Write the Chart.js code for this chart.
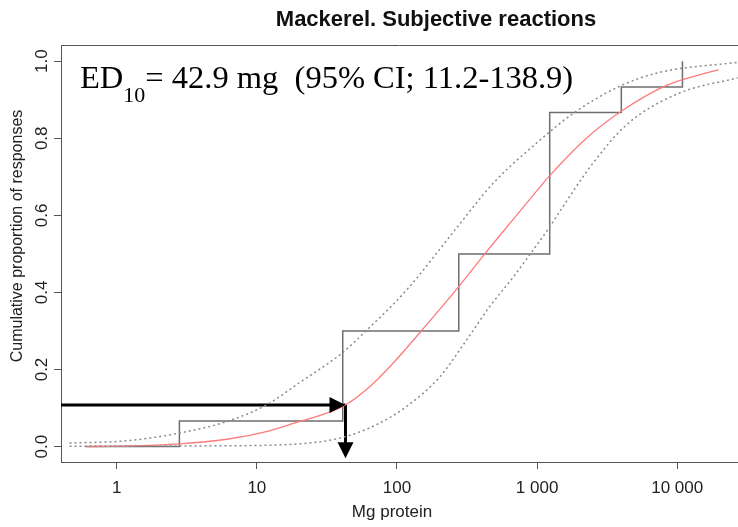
<!DOCTYPE html>
<html>
<head>
<meta charset="utf-8">
<script src="https://cdn.jsdelivr.net/npm/chart.js@4/dist/chart.umd.min.js"></script>
<style>
  html, body { margin: 0; padding: 0; background: #fff; }
  #wrap { width: 738px; height: 527px; }
</style>
</head>
<body>
<div id="wrap"><canvas id="chart" width="738" height="527"></canvas></div>
<script>
// mackerel - cumulative proportion of subjective reactions vs dose (log scale)

// empirical step function (dose in mg, cumulative proportion)
const stepDose = [0.6, 2.8, 41, 276, 1230, 3990, 10900];
const stepProp = [0, 0.0667, 0.3, 0.5, 0.867, 0.933, 1.0];

// fitted curve (red)
const fitDose = [0.6, 1, 2.8, 6.1, 11.7, 20, 30, 42.9, 65, 93, 149, 276, 423, 572, 713, 1040, 1230, 2250, 3990, 8400, 19700];
const fitProp = [0.0, 0.001, 0.007, 0.019, 0.039, 0.065, 0.084, 0.108, 0.158, 0.215, 0.30, 0.415, 0.50, 0.558, 0.60, 0.672, 0.703, 0.80, 0.870, 0.937, 0.978];

// 95% confidence band (dotted)
const upperDose = [0.46, 1.17, 2.8, 6.1, 11.7, 20, 41, 60, 117, 258, 485, 1040, 1900, 3990, 7500, 27000];
const upperProp = [0.009, 0.015, 0.035, 0.065, 0.108, 0.165, 0.244, 0.30, 0.406, 0.561, 0.683, 0.794, 0.870, 0.937, 0.971, 0.997];
const lowerDose = [0.46, 5, 20, 39, 67, 117, 202, 313, 458, 676, 915, 1230, 1450, 2500, 4350, 10000, 27000];
const lowerProp = [0.001, 0.002, 0.007, 0.022, 0.052, 0.104, 0.181, 0.276, 0.363, 0.44, 0.505, 0.57, 0.61, 0.735, 0.835, 0.915, 0.957];

// ED10 marker
const ed10 = 42.9;
const ed10Level = 0.108;
const arrowBottom = -0.03;
const ciLow = 11.2;
const ciHigh = 138.9;

// axes
const xTickValues = [1, 10, 100, 1000, 10000];
const xTickLabels = ['1', '10', '100', '1 000', '10 000'];
const yTickValues = [0, 0.2, 0.4, 0.6, 0.8, 1.0];
const yTickLabels = ['0.0', '0.2', '0.4', '0.6', '0.8', '1.0'];

const SANS = '"Liberation Sans", Arial, sans-serif';
const SERIF = '"Liberation Serif", "Times New Roman", serif';
const AXIS_GREY = '#555555';

function pts(xs, ys) {
  return xs.map((x, i) => ({ x: x, y: ys[i] }));
}

const xMin = 0.4;
const xMax = 27150;

// decorations: top border, titles, ED10 label, arrow heads
const decor = {
  id: 'decor',
  afterDatasetsDraw(chart) {
    const ctx = chart.ctx;
    const x = chart.scales.x, y = chart.scales.y;
    const tipX = x.getPixelForValue(ed10);
    const lvlY = y.getPixelForValue(ed10Level);
    const botY = y.getPixelForValue(arrowBottom);
    ctx.save();
    ctx.fillStyle = '#000';
    // head pointing right
    ctx.beginPath();
    ctx.moveTo(tipX, lvlY);
    ctx.lineTo(tipX - 16, lvlY - 8);
    ctx.lineTo(tipX - 16, lvlY + 8);
    ctx.closePath();
    ctx.fill();
    // head pointing down
    ctx.beginPath();
    ctx.moveTo(tipX, botY);
    ctx.lineTo(tipX - 8, botY - 16);
    ctx.lineTo(tipX + 8, botY - 16);
    ctx.closePath();
    ctx.fill();
    ctx.restore();
  },
  afterDraw(chart) {
    const ctx = chart.ctx;
    const a = chart.chartArea;
    ctx.save();
    // top side of the box
    ctx.strokeStyle = AXIS_GREY;
    ctx.lineWidth = 1;
    ctx.beginPath();
    ctx.moveTo(a.left, Math.round(a.top) + 0.5);
    ctx.lineTo(a.right, Math.round(a.top) + 0.5);
    ctx.stroke();

    // main title
    ctx.fillStyle = '#111';
    ctx.textAlign = 'center';
    ctx.textBaseline = 'middle';
    ctx.font = 'bold 22px ' + SANS;
    ctx.fillText('Mackerel. Subjective reactions', 436, 20);

    // axis titles
    ctx.font = '17px ' + SANS;
    ctx.fillStyle = '#222';
    ctx.fillText('Mg protein', 392, 512);
    ctx.font = '16px ' + SANS;
    ctx.save();
    ctx.translate(18, 236);
    ctx.rotate(-Math.PI / 2);
    ctx.fillText('Cumulative proportion of responses', 0, 0);
    ctx.restore();

    // ED10 label
    ctx.fillStyle = '#000';
    ctx.textAlign = 'left';
    ctx.textBaseline = 'alphabetic';
    let tx = 80;
    ctx.font = '32.5px ' + SERIF;
    ctx.fillText('ED', tx, 88);
    tx += ctx.measureText('ED').width;
    ctx.font = '22px ' + SERIF;
    ctx.fillText('10', tx, 102);
    tx += ctx.measureText('10').width;
    ctx.font = '32.5px ' + SERIF;
    ctx.fillText('= ' + ed10 + ' mg  (95% CI; ' + ciLow + '-' + ciHigh + ')', tx, 88);
    ctx.restore();
  }
};

new Chart(document.getElementById('chart'), {
  type: 'scatter',
  data: {
    datasets: [
      {
        label: 'upper',
        data: pts(upperDose, upperProp),
        showLine: true,
        borderColor: '#8a8a8a',
        borderWidth: 1.5,
        borderDash: [2, 3],
        pointRadius: 0,
        cubicInterpolationMode: 'monotone'
      },
      {
        label: 'lower',
        data: pts(lowerDose, lowerProp),
        showLine: true,
        borderColor: '#8a8a8a',
        borderWidth: 1.5,
        borderDash: [2, 3],
        pointRadius: 0,
        cubicInterpolationMode: 'monotone'
      },
      {
        label: 'fit',
        data: pts(fitDose, fitProp),
        showLine: true,
        borderColor: '#ff7a7a',
        borderWidth: 1.3,
        pointRadius: 0,
        cubicInterpolationMode: 'monotone'
      },
      {
        label: 'observed',
        data: pts(stepDose, stepProp),
        showLine: true,
        stepped: 'before',
        borderColor: '#6e6e6e',
        borderWidth: 1.5,
        pointRadius: 0
      },
      {
        label: 'arrowH',
        data: [{ x: xMin, y: ed10Level }, { x: ed10, y: ed10Level }],
        showLine: true,
        borderColor: '#000',
        borderWidth: 3,
        pointRadius: 0
      },
      {
        label: 'arrowV',
        data: [{ x: ed10, y: ed10Level }, { x: ed10, y: arrowBottom + 0.01 }],
        showLine: true,
        borderColor: '#000',
        borderWidth: 3,
        pointRadius: 0
      }
    ]
  },
  options: {
    responsive: false,
    animation: false,
    devicePixelRatio: 1,
    layout: { padding: { top: 45, right: 0, bottom: 0, left: 0 } },
    plugins: {
      legend: { display: false },
      tooltip: { enabled: false }
    },
    scales: {
      x: {
        type: 'logarithmic',
        min: xMin,
        max: xMax,
        afterBuildTicks: s => { s.ticks = xTickValues.map(v => ({ value: v })); },
        afterFit: s => { s.height = 65; },
        ticks: {
          autoSkip: false,
          maxRotation: 0,
          padding: 9,
          color: '#222',
          font: { family: SANS, size: 17 },
          callback: (v, i) => xTickLabels[i]
        },
        grid: { drawOnChartArea: false, tickLength: 7, color: AXIS_GREY },
        border: { color: AXIS_GREY }
      },
      y: {
        min: -0.04,
        max: 1.042,
        afterBuildTicks: s => { s.ticks = yTickValues.map(v => ({ value: v })); },
        afterFit: s => { s.width = 61; },
        ticks: {
          minRotation: 90,
          maxRotation: 90,
          crossAlign: 'center',
          padding: 0,
          color: '#222',
          font: { family: SANS, size: 17 },
          callback: (v, i) => yTickLabels[i]
        },
        grid: { drawOnChartArea: false, tickLength: 7, color: AXIS_GREY },
        border: { color: AXIS_GREY }
      }
    }
  },
  plugins: [decor]
});
</script>
</body>
</html>
